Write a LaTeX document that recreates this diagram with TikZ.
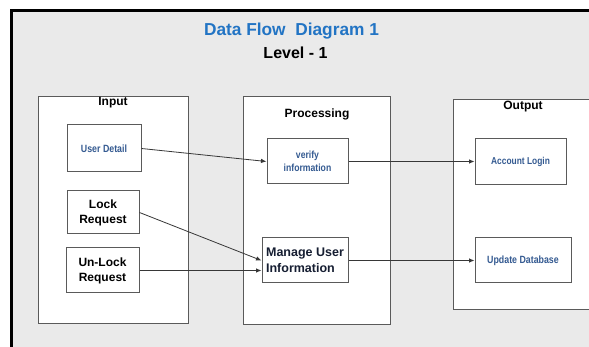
\documentclass[tikz,border=0pt]{standalone}
\usepackage{fontspec}
\setmainfont{Liberation Sans}
\newfontfamily\narrowfont[FakeStretch=0.84]{Liberation Sans}
\usetikzlibrary{arrows.meta}
\definecolor{bgc}{RGB}{234,234,234}
\definecolor{titleblue}{RGB}{34,116,196}
\definecolor{boxblue}{RGB}{52,90,145}
\definecolor{navy}{RGB}{22,30,50}
\definecolor{edge}{RGB}{90,90,90}
\definecolor{arrc}{RGB}{55,55,55}
\begin{document}
\begin{tikzpicture}[x=1pt,y=-1pt,
  group/.style={draw=edge, line width=0.9pt, fill=white, inner sep=0pt},
  grplabel/.style={font=\bfseries\fontsize{12}{14}\selectfont, text=black, inner sep=0pt},
  smallbox/.style={draw=edge, line width=1pt, fill=white, inner sep=0pt, align=center},
  bluetext/.style={text=boxblue, font=\narrowfont\bfseries\fontsize{10.5}{12}\selectfont},
  bigtext/.style={text=navy, font=\bfseries\fontsize{12}{15}\selectfont},
  arr/.style={draw=arrc, line width=0.8pt, -{Latex[length=5.5pt,width=4.5pt]}}
]
\useasboundingbox (0,0) rectangle (589,347);
\fill[white] (0,0) rectangle (589,347);
\fill[bgc] (11.5,10.5) rectangle (600,360);
\draw[line width=3pt] (600,10.5) -- (11.5,10.5) -- (11.5,360);

\node[text=titleblue, font=\bfseries\fontsize{17.3}{19}\selectfont, inner sep=0pt] (title) at (291.5,31) {Data Flow\ \ Diagram 1};
\node[font=\bfseries\fontsize{16}{18}\selectfont, inner sep=0pt] (level) at (295.5,53) {Level - 1};

% group boxes
\node[group, minimum width=150pt, minimum height=227pt] (inp) at (113,209.5) {};
\node[group, minimum width=147pt, minimum height=228pt] (proc) at (316.5,210) {};
\node[group, minimum width=142pt, minimum height=210pt] (outp) at (524,204) {};
\node[grplabel] (inpl) at (113,103) {Input};
\node[grplabel] (procl) at (317,114) {Processing};
\node[grplabel] (outpl) at (523,107) {Output};

% inner boxes
\node[smallbox, minimum width=74pt, minimum height=47pt, bluetext] (ud) at (104,148.5) {User Detail};
\node[smallbox, minimum width=72pt, minimum height=43pt, bigtext, text=black] (lock) at (103,212.5) {Lock\\Request};
\node[smallbox, minimum width=73pt, minimum height=45pt, bigtext, text=black] (unlock) at (102.5,270.5) {Un-Lock\\Request};
\node[smallbox, minimum width=81pt, minimum height=45pt, bluetext, font=\narrowfont\bfseries\fontsize{10.3}{12.5}\selectfont] (ver) at (307.5,161.5) {verify\\information};
\node[smallbox, minimum width=86pt, minimum height=45pt, bigtext, font=\bfseries\fontsize{12.5}{16}\selectfont, align=left] (man) at (305,260.5) {Manage User\\Information};
\node[smallbox, minimum width=91pt, minimum height=46pt, bluetext, font=\narrowfont\bfseries\fontsize{10}{12}\selectfont] (acc) at (520.5,162) {Account Login};
\node[smallbox, minimum width=96pt, minimum height=45pt, bluetext, font=\narrowfont\bfseries\fontsize{10.5}{12}\selectfont] (upd) at (523,260.5) {Update Database};

% connectors
\draw[arr] (ud.east) -- (ver.west);
\draw[arr] (lock.east) -- (man.west);
\draw[arr] (unlock.east) -- (man.west |- unlock.east);
\draw[arr] (ver.east) -- (ver.east -| acc.west);
\draw[arr] (man.east) -- (man.east -| upd.west);
\end{tikzpicture}
\end{document}
